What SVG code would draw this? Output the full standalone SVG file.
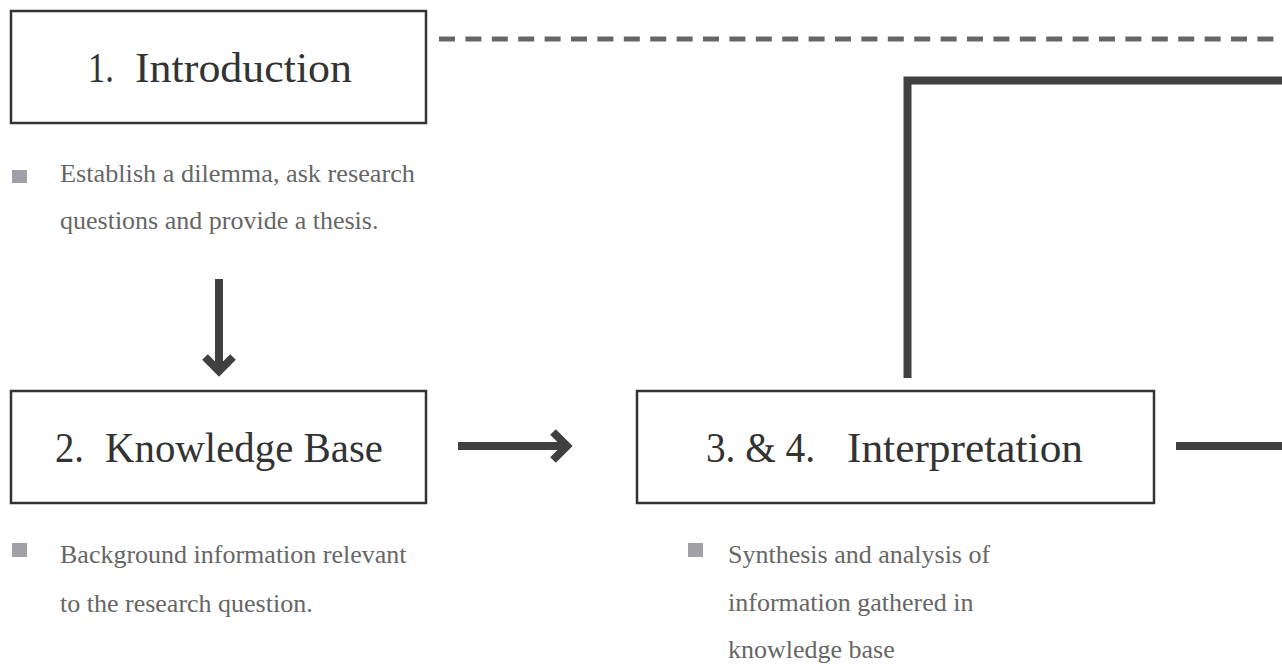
<svg xmlns="http://www.w3.org/2000/svg" width="1282" height="668" viewBox="0 0 1282 668">
<style>
.box{fill:#fff;stroke:#333;stroke-width:2.5}
.title{font-family:"Liberation Serif",serif;font-size:42px;fill:#333}
.body{font-family:"Liberation Serif",serif;font-size:26px;fill:#666}
.sq{fill:#a0a0a6}
.thick{fill:none;stroke:#404040;stroke-width:8;stroke-linecap:butt;stroke-linejoin:miter}
.dash{fill:none;stroke:#666;stroke-width:5;stroke-dasharray:16 10.4}
</style>
<rect width="1282" height="668" fill="#fff"/>
<g id="connectors">
<line class="dash" x1="439" y1="39" x2="1282" y2="39"/>
<path class="thick" d="M907.5 378 V80.5 H1282"/>
<line class="thick" x1="1176" y1="446" x2="1282" y2="446"/>
<line class="thick" x1="219" y1="279" x2="219" y2="368"/>
<polyline class="thick" points="205,357 219,371 233,357"/>
<line class="thick" x1="458" y1="446" x2="564" y2="446"/>
<polyline class="thick" points="553,432 567,446 553,460"/>
</g>
<g id="node-introduction">
<rect class="box" x="11" y="11" width="415" height="112"/>
<text class="title" x="88" y="82" textLength="26" lengthAdjust="spacingAndGlyphs">1.</text>
<text class="title" x="135" y="82" textLength="217" lengthAdjust="spacingAndGlyphs">Introduction</text>
<rect class="sq" x="12" y="170" width="15" height="13"/>
<text class="body" x="60" y="182" textLength="355" lengthAdjust="spacingAndGlyphs">Establish a dilemma, ask research</text>
<text class="body" x="60" y="229">questions and provide a thesis.</text>
</g>
<g id="node-knowledge-base">
<rect class="box" x="11" y="391" width="415" height="112"/>
<text class="title" x="55" y="462" textLength="29" lengthAdjust="spacingAndGlyphs">2.</text>
<text class="title" x="105" y="462" textLength="278" lengthAdjust="spacingAndGlyphs">Knowledge Base</text>
<rect class="sq" x="12" y="543" width="15" height="14"/>
<text class="body" x="60" y="563">Background information relevant</text>
<text class="body" x="60" y="612">to the research question.</text>
</g>
<g id="node-interpretation">
<rect class="box" x="637" y="391" width="517" height="112"/>
<text class="title" x="706" y="462" textLength="109" lengthAdjust="spacingAndGlyphs">3. &amp; 4.</text>
<text class="title" x="847" y="462" textLength="236" lengthAdjust="spacingAndGlyphs">Interpretation</text>
<rect class="sq" x="688" y="543" width="15" height="14"/>
<text class="body" x="728" y="563">Synthesis and analysis of</text>
<text class="body" x="728" y="611">information gathered in</text>
<text class="body" x="728" y="658">knowledge base</text>
</g>
</svg>
